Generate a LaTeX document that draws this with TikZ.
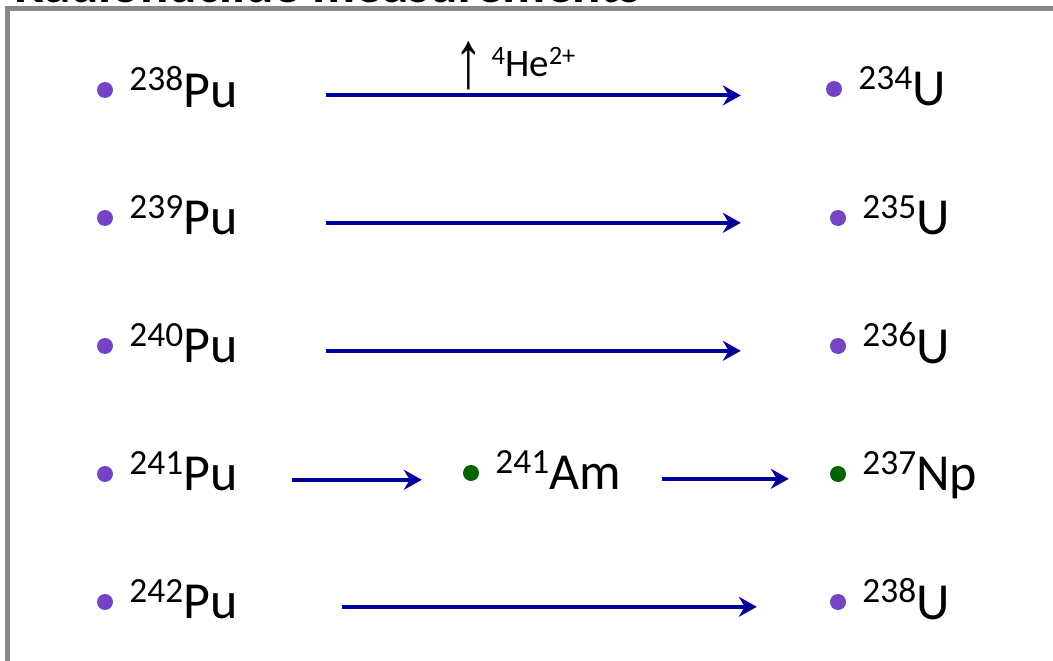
\documentclass[tikz,border=0pt]{standalone}
\usepackage{fontspec}
\setmainfont{Carlito}
\newfontfamily\arrowfont{Liberation Sans}
\usepackage{graphicx}
\usetikzlibrary{arrows.meta,positioning}
\definecolor{plum}{HTML}{7443C6}
\definecolor{forest}{HTML}{006400}
\definecolor{navy}{HTML}{00009C}
\definecolor{framegray}{HTML}{878787}
\newcommand{\sups}[1]{\raisebox{0.32em}{\scalebox{0.68}{#1}}}
\newcommand{\upmark}{\raisebox{-11pt}{\scalebox{1.3}[1.85]{\arrowfont\fontsize{44}{44}\selectfont ↑}}}
\tikzset{
  nucdot/.style={circle, fill=#1, inner sep=0pt, minimum size=16pt},
  nucdot/.default=plum,
  isotope/.style={inner sep=0pt, text depth=0pt,
    font=\fontsize{52}{60}\selectfont},
  decay/.style={-{Stealth[length=18pt,width=20pt,inset=6pt]},
    line width=4pt, color=navy},
  heading/.style={inner sep=0pt, font=\bfseries\fontsize{53}{60}\selectfont},
  alphalabel/.style={inner sep=0pt, font=\fontsize{39}{44}\selectfont},
  panel/.style={draw=framegray, line width=5pt},
}

\begin{document}
\begin{tikzpicture}[x=1pt, y=-1pt]
    \useasboundingbox (0,0) rectangle (1053,661);
    % title and frame, both cut by the page edge
    \node[heading, anchor=base west] (title) at (14,3) {Radionuclide measurements};
    \draw[panel] (7,8.5) rectangle (1120,720);

    % 238Pu -> 234U
    \node[nucdot] (d238) at (105,90) {};
    \node[isotope, right=16pt of d238, yshift=3pt] (pu238) {\sups{238}Pu};
    \node[nucdot] (d234) at (834,89) {};
    \node[isotope, right=16pt of d234, yshift=3pt] (u234) {\sups{234}U};
    \coordinate (r1) at ([yshift=12pt]pu238.base east);
    \draw[decay, shorten <=88pt, shorten >=85pt] (r1) -- (r1 -| d234.west);
    \node[alphalabel, anchor=base west] (alpha) at (454,77) {\upmark~\sups{4}He\sups{2+}};

    % 239Pu -> 235U
    \node[nucdot] (d239) at (105,218) {};
    \node[isotope, right=16pt of d239, yshift=3pt] (pu239) {\sups{239}Pu};
    \node[nucdot] (d235) at (838,218) {};
    \node[isotope, right=16pt of d235, yshift=3pt] (u235) {\sups{235}U};
    \coordinate (r2) at ([yshift=12pt]pu239.base east);
    \draw[decay, shorten <=88pt, shorten >=89pt] (r2) -- (r2 -| d235.west);

    % 240Pu -> 236U
    \node[nucdot] (d240) at (105,346) {};
    \node[isotope, right=16pt of d240, yshift=3pt] (pu240) {\sups{240}Pu};
    \node[nucdot] (d236) at (838,346) {};
    \node[isotope, right=16pt of d236, yshift=3pt] (u236) {\sups{236}U};
    \coordinate (r3) at ([yshift=12pt]pu240.base east);
    \draw[decay, shorten <=88pt, shorten >=89pt] (r3) -- (r3 -| d236.west);

    % 241Pu -> 241Am -> 237Np
    \node[nucdot] (d241) at (105,474) {};
    \node[isotope, right=16pt of d241, yshift=3pt] (pu241) {\sups{241}Pu};
    \node[nucdot=forest] (dam) at (471,473) {};
    \node[isotope, right=16pt of dam, yshift=3pt] (am241) {\sups{241}Am};
    \node[nucdot=forest] (dnp) at (838,474) {};
    \node[isotope, right=16pt of dnp, yshift=3pt] (np237) {\sups{237}Np};
    \coordinate (r4) at ([yshift=11pt]pu241.base east);
    \coordinate (r4b) at ([yshift=11pt]am241.base east);
    \draw[decay, shorten <=54pt, shorten >=41pt] (r4) -- (r4 -| dam.west);
    \draw[decay, shorten <=41pt, shorten >=41pt] (r4b) -- (r4b -| dnp.west);

    % 242Pu -> 238U
    \node[nucdot] (d242) at (105,602) {};
    \node[isotope, right=16pt of d242, yshift=3pt] (pu242) {\sups{242}Pu};
    \node[nucdot] (d238u) at (838,602) {};
    \node[isotope, right=16pt of d238u, yshift=3pt] (u238) {\sups{238}U};
    \coordinate (r5) at ([yshift=12pt]pu242.base east);
    \draw[decay, shorten <=104pt, shorten >=73pt] (r5) -- (r5 -| d238u.west);
\end{tikzpicture}
\end{document}
